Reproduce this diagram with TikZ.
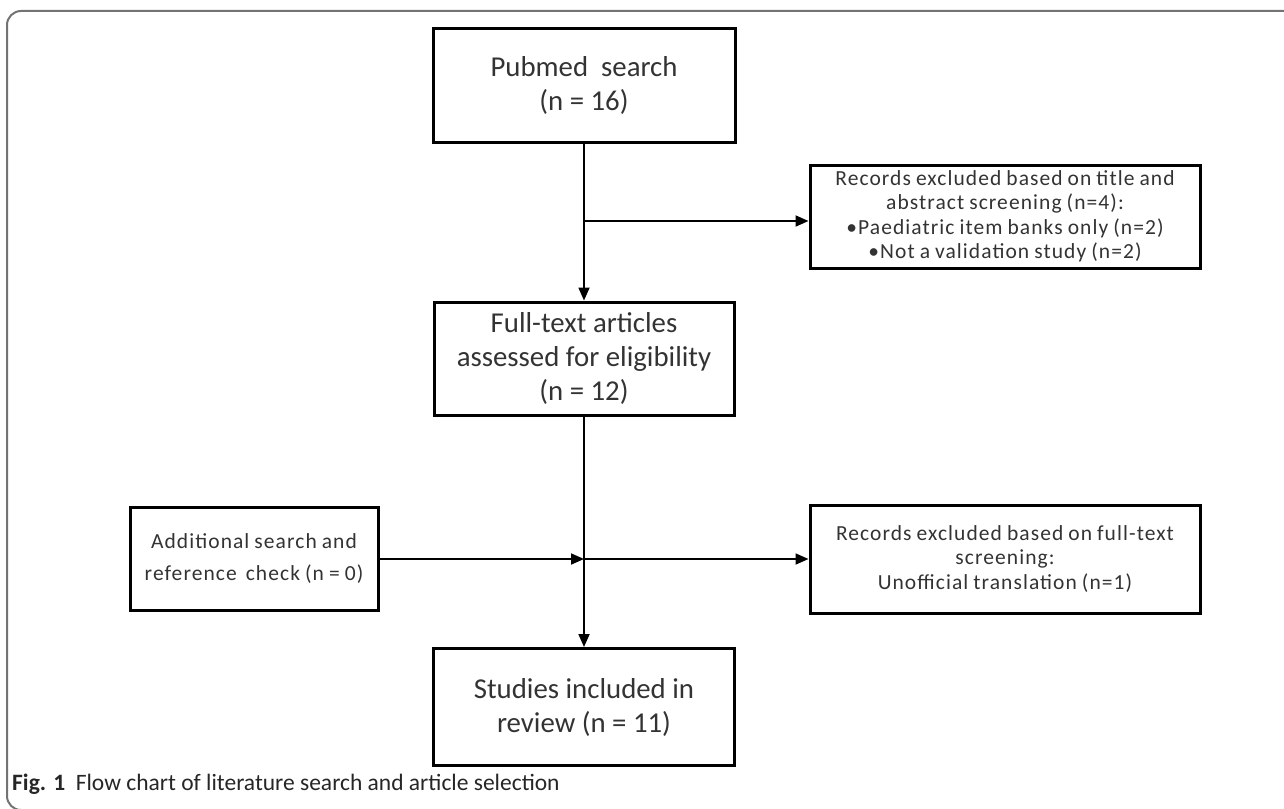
\documentclass[tikz,border=0pt]{standalone}
\usepackage{fontspec}
\setmainfont{Carlito}
\newfontfamily\smallbox[LetterSpace=5,WordSpace=0.85]{Carlito}
\usetikzlibrary{arrows.meta}
\begin{document}
\begin{tikzpicture}[x=1pt,y=-1pt,
  box/.style={draw=black, line width=3pt, inner sep=0pt, align=center, text=black!80},
  big/.style={font=\fontsize{28.8}{34}\selectfont},
  small/.style={font=\smallbox\fontsize{21.5}{24.5}\selectfont},
  conn/.style={line width=1.8pt, -{Triangle[length=13pt,width=11pt]}}]
\useasboundingbox (0,0) rectangle (1284,808);
% frame
\draw[line width=2pt, black!55, rounded corners=14pt] (1300,11) -- (7,11) -- (7,810) -- (1300,810);
% boxes
\node[box,big,minimum width=302pt,minimum height=113pt] (pub) at (584,85.5) {Pubmed\ \ search\\(n = 16)};
\node[box,small,minimum width=390pt,minimum height=103pt] (rec1) at (1005,216.5) {Records excluded based on title and\\abstract screening (n=4):\\\textbullet Paediatric item banks only (n=2)\\\textbullet Not a validation study (n=2)};
\node[box,big,minimum width=300pt,minimum height=113pt] (full) at (584,358.5) {Full-text articles\\assessed for eligibility\\(n = 12)};
\node[box,small,font=\smallbox\fontsize{21.5}{32}\selectfont,minimum width=248pt,minimum height=103pt] (add) at (254,558.5) {Additional search and\\reference\hspace{9pt}check (n = 0)};
\node[box,small,minimum width=390pt,minimum height=108pt] (rec2) at (1005,559) {Records excluded based on full-text\\screening:\\Unofficial translation (n=1)};
\node[box,big,minimum width=301pt,minimum height=117pt] (stud) at (584,707) {Studies included in\\review (n = 11)};
% connectors
\coordinate (j1) at (584,221);
\coordinate (j2) at (584,559);
\draw[conn] (pub) -- (full);
\draw[conn] (j1) -- (rec1.west |- j1);
\draw[conn] (full) -- (stud);
\draw[conn] (add.east |- j2) -- (j2);
\draw[conn] (j2) -- (rec2.west |- j2);
% caption
\node[anchor=west, inner sep=0pt, font=\fontsize{23.5}{27}\selectfont, text=black!85] (cap) at (12,784) {\textbf{Fig. 1}\ \ Flow chart of literature search and article selection};
\end{tikzpicture}
\end{document}
